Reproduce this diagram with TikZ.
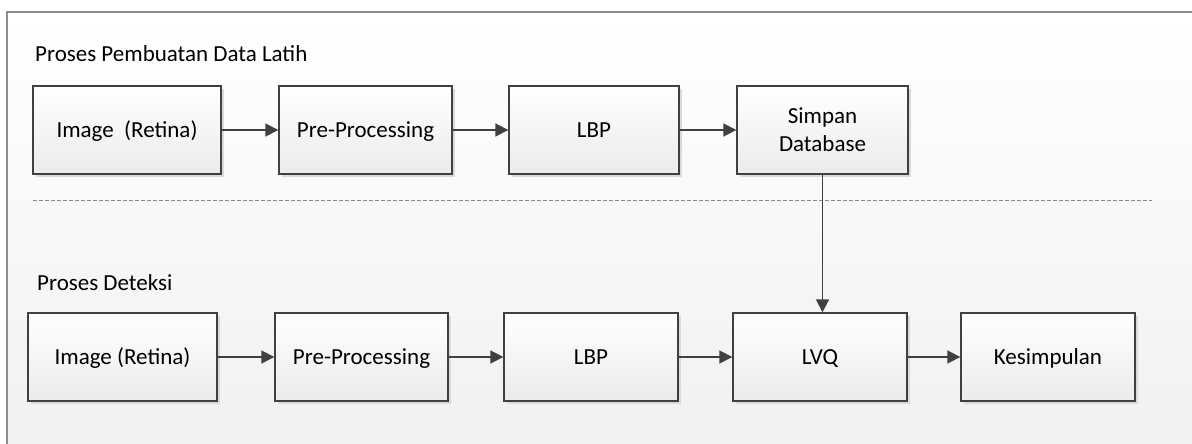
\documentclass[tikz,border=0pt]{standalone}
\usepackage{fontspec}
\setmainfont{Carlito}
\usetikzlibrary{arrows.meta,shadows}
\definecolor{lineGray}{HTML}{404040}
\definecolor{frameGray}{HTML}{8C8C8C}
\definecolor{boxBottom}{HTML}{EBEBEB}
\definecolor{bgBottom}{HTML}{F0F0F0}
\definecolor{shadowGray}{HTML}{DADADA}
\tikzset{
  every picture/.style={font={\fontsize{23}{28}\selectfont}, >={Triangle[length=13pt, width=13pt]}}}

\begin{document}
\begin{tikzpicture}[x=1pt, y=-1pt,
    procBox/.style={
      draw=lineGray, line width=1.4pt,
      top color=white, bottom color=boxBottom,
      drop shadow={shadow xshift=3pt, shadow yshift=-3pt, fill=shadowGray, opacity=1},
      align=center, inner sep=0pt,
      minimum height=88pt},
    oneLine/.style={text height=15pt, text depth=0pt},
    flow/.style={->, draw=lineGray, line width=1.8pt}]

  \useasboundingbox (0,0) rectangle (1192,444);
  \clip (0,0) rectangle (1192,444);
  \draw[frameGray, line width=1.2pt, top color=white, bottom color=bgBottom]
    (7,12) rectangle (1210,460);

  % data latih
  \node[anchor=base west, inner sep=0pt] (judulLatih) at (35,62) {Proses Pembuatan Data Latih};
  \node[procBox, oneLine, minimum width=188pt] (imgLatih) at (127,130) {Image\ \ (Retina)};
  \node[procBox, oneLine, minimum width=173pt] (preLatih) at (365.5,130) {Pre-Processing};
  \node[procBox, oneLine, minimum width=170pt] (lbpLatih) at (594,130) {LBP};
  \node[procBox, minimum width=171pt] (simpanDb) at (822.5,130) {Simpan\\Database};

  \draw[frameGray, dashed, dash pattern=on 4pt off 2pt] (33,200) -- (1152,200);

  % deteksi
  \node[anchor=base west, inner sep=0pt] (judulDeteksi) at (37,290) {Proses Deteksi};
  \node[procBox, oneLine, minimum width=189pt] (imgDeteksi) at (122.5,357) {Image (Retina)};
  \node[procBox, oneLine, minimum width=173pt] (preDeteksi) at (361.5,357) {Pre-Processing};
  \node[procBox, oneLine, minimum width=174pt] (lbpDeteksi) at (591,357) {LBP};
  \node[procBox, oneLine, minimum width=174pt] (lvq) at (820,357) {LVQ};
  \node[procBox, oneLine, minimum width=174pt] (hasil) at (1048,357) {Kesimpulan};

  \draw[flow] (imgLatih) -- (preLatih);
  \draw[flow] (preLatih) -- (lbpLatih);
  \draw[flow] (lbpLatih) -- (simpanDb);
  \draw[flow] (simpanDb) -- (simpanDb |- lvq.north);
  \draw[flow] (imgDeteksi) -- (preDeteksi);
  \draw[flow] (preDeteksi) -- (lbpDeteksi);
  \draw[flow] (lbpDeteksi) -- (lvq);
  \draw[flow] (lvq) -- (hasil);
\end{tikzpicture}
\end{document}
